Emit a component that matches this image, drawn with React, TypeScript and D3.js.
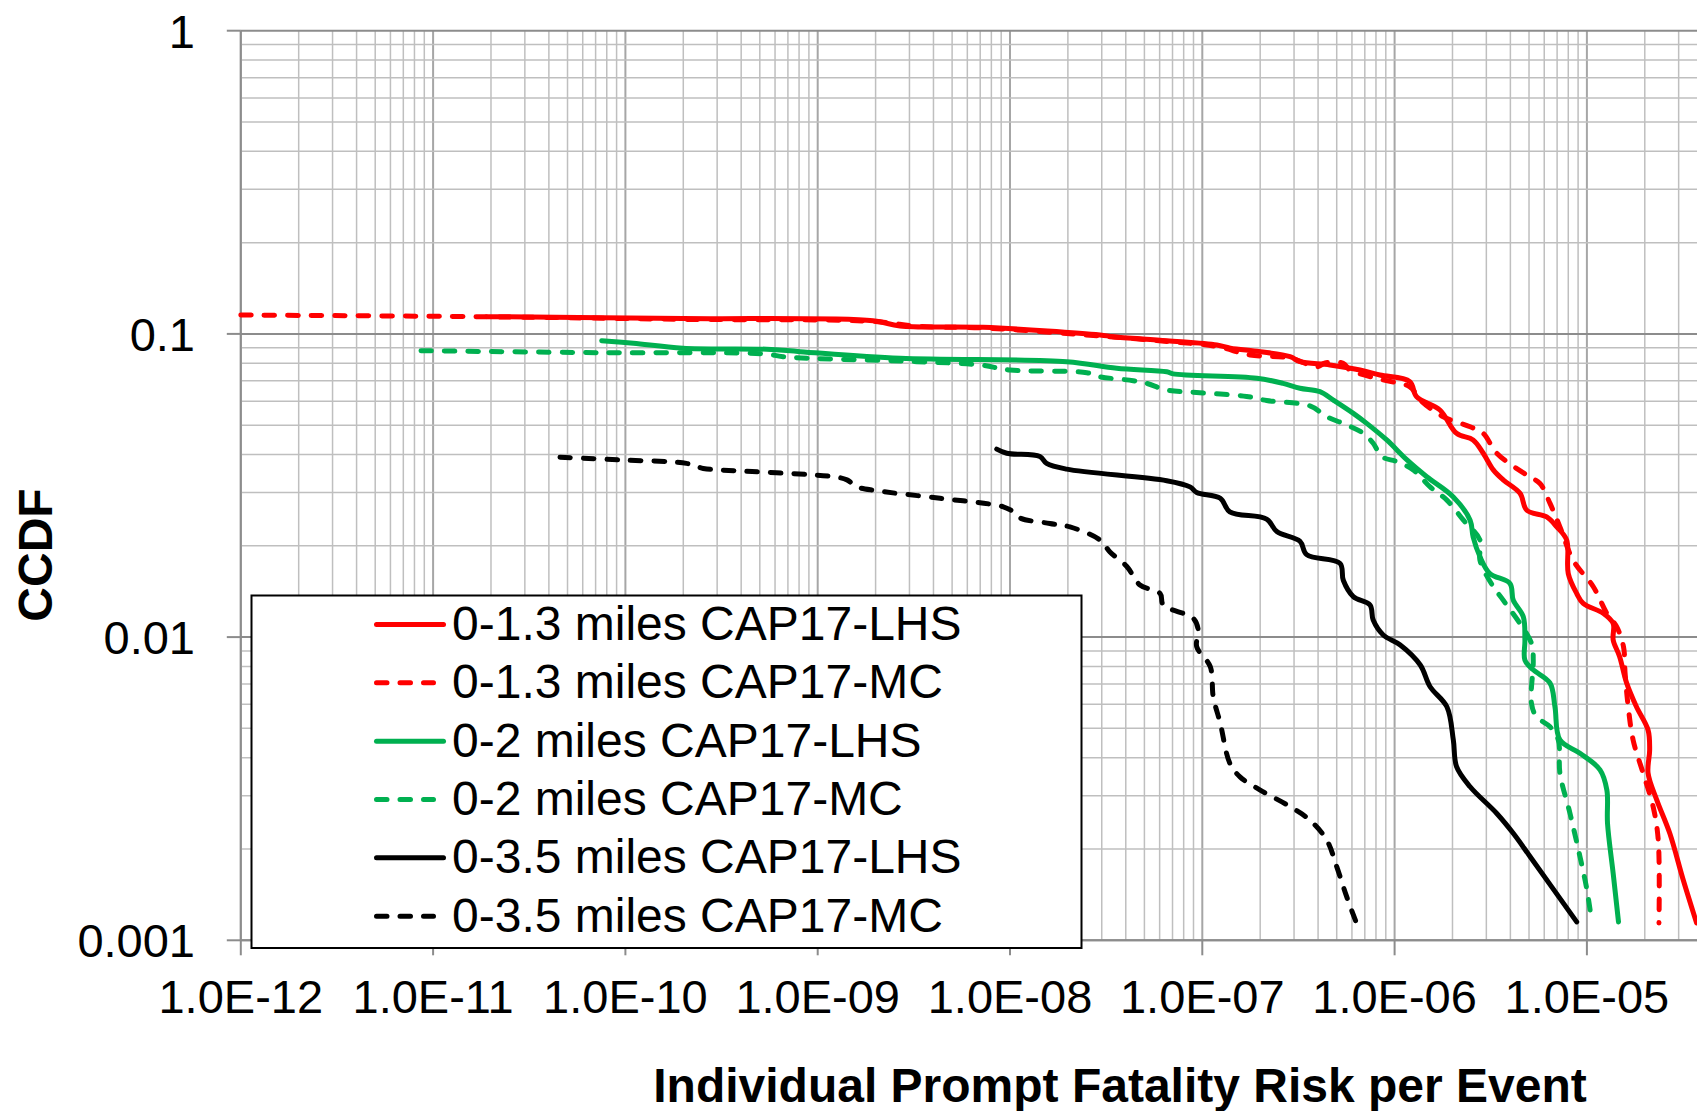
import React from "react";
import * as d3 from "d3";

// CCDF of individual prompt fatality risk per event, by distance band and sampling method.
// Each series is a list of [risk, ccdf] pairs.

const red13LHS: [number, number][] = [
  [1.9e-11, 0.114], [2.0e-10, 0.1124], [1.94e-9, 0.1105], [2.68e-9, 0.1062], [7.24e-9, 0.1051],
  [2.94e-8, 0.0992], [3.44e-8, 0.0979], [6.55e-8, 0.095], [1.19e-7, 0.0919], [1.4e-7, 0.0897],
  [2.0e-7, 0.0874], [2.86e-7, 0.0841], [3.22e-7, 0.081], [4.61e-7, 0.079], [6.61e-7, 0.076],
  [8.39e-7, 0.0732], [1.2e-6, 0.0696], [1.3e-6, 0.0621], [1.72e-6, 0.0561], [2.1e-6, 0.047],
  [2.56e-6, 0.0447], [2.89e-6, 0.0404], [3.26e-6, 0.0356], [3.67e-6, 0.033], [4.49e-6, 0.0298],
  [4.87e-6, 0.0262], [6.18e-6, 0.0249], [6.97e-6, 0.0231], [7.85e-6, 0.0209], [8.0e-6, 0.0162],
  [8.85e-6, 0.01393], [9.57e-6, 0.01291], [1.22e-5, 0.01197], [1.37e-5, 0.01109], [1.37e-5, 0.00978],
  [1.48e-5, 0.00862], [1.61e-5, 0.00705], [1.81e-5, 0.00589], [2.08e-5, 0.00494], [2.12e-5, 0.00425],
  [2.08e-5, 0.00356], [2.31e-5, 0.0029], [2.7e-5, 0.00225], [3.17e-5, 0.00158], [3.72e-5, 0.00114],
];

const red13MC: [number, number][] = [
  [1.0e-12, 0.1154], [1.9e-11, 0.1139], [1.99e-10, 0.1117], [1.94e-9, 0.1099], [3.4e-9, 0.1058],
  [7.24e-9, 0.1046], [2.94e-8, 0.0984], [6.55e-8, 0.0944], [1.19e-7, 0.0909], [1.77e-7, 0.0852],
  [2.86e-7, 0.0833], [3.94e-7, 0.0779], [4.35e-7, 0.0802], [5.4e-7, 0.08], [5.87e-7, 0.076],
  [8.71e-7, 0.0705], [1.2e-6, 0.0669], [1.36e-6, 0.0605], [1.79e-6, 0.0533], [2.47e-6, 0.0494],
  [2.89e-6, 0.047], [3.4e-6, 0.0404], [4.87e-6, 0.0342], [5.7e-6, 0.0321], [6.43e-6, 0.0276],
  [7.24e-6, 0.0231], [8.49e-6, 0.0179], [1.08e-5, 0.01466], [1.27e-5, 0.01197], [1.43e-5, 0.0108],
  [1.55e-5, 0.0093], [1.58e-5, 0.0076], [1.64e-5, 0.00589], [1.74e-5, 0.00457], [1.96e-5, 0.00356],
  [2.21e-5, 0.00276], [2.35e-5, 0.00214], [2.37e-5, 0.00114],
];

const green2LHS: [number, number][] = [
  [7.53e-11, 0.095], [1.1e-10, 0.0931], [1.99e-10, 0.0897], [5.43e-10, 0.089], [8.09e-10, 0.0874],
  [2.68e-9, 0.0831], [1.97e-8, 0.081], [3.59e-8, 0.077], [6.53e-8, 0.075], [7.05e-8, 0.0738],
  [1.92e-7, 0.0714], [2.63e-7, 0.0687], [3.22e-7, 0.0662], [4.09e-7, 0.0645], [4.8e-7, 0.0605],
  [6.1e-7, 0.0547], [7.16e-7, 0.0507], [9.1e-7, 0.0447], [1.16e-6, 0.0384], [1.47e-6, 0.0338],
  [2.02e-6, 0.029], [2.47e-6, 0.0243], [2.56e-6, 0.0214], [2.78e-6, 0.0184], [3.13e-6, 0.0162],
  [3.98e-6, 0.01503], [4.14e-6, 0.01324], [4.67e-6, 0.01167], [4.76e-6, 0.00978], [4.76e-6, 0.0084],
  [5.26e-6, 0.0078], [6.43e-6, 0.00705], [6.82e-6, 0.00589], [7.24e-6, 0.00458], [9.2e-6, 0.00414],
  [1.17e-5, 0.00365], [1.27e-5, 0.00313], [1.28e-5, 0.00243], [1.37e-5, 0.00166], [1.46e-5, 0.00115],
];

const green2MC: [number, number][] = [
  [8.65e-12, 0.088], [7.38e-11, 0.0867], [5.43e-10, 0.0858], [6.6e-10, 0.0841], [3.27e-9, 0.081],
  [6.98e-9, 0.079], [1.0e-8, 0.076], [2.51e-8, 0.0745], [2.94e-8, 0.0722], [4.37e-8, 0.0701],
  [5.14e-8, 0.0687], [6.53e-8, 0.0653], [9.69e-8, 0.064], [1.7e-7, 0.0622], [2.16e-7, 0.0603],
  [3.63e-7, 0.0579], [4.44e-7, 0.0533], [5.64e-7, 0.0501], [6.87e-7, 0.047], [7.74e-7, 0.0436],
  [8.57e-7, 0.0394], [1.03e-6, 0.0379], [1.25e-6, 0.0356], [1.53e-6, 0.0313], [1.87e-6, 0.0283],
  [2.28e-6, 0.0243], [2.78e-6, 0.0209], [2.78e-6, 0.0179], [3.26e-6, 0.01466], [3.67e-6, 0.01324],
  [5.15e-6, 0.00954], [5.26e-6, 0.0084], [5.15e-6, 0.00605], [5.47e-6, 0.00546], [6.43e-6, 0.00506],
  [7.1e-6, 0.00458], [7.24e-6, 0.00356], [8.17e-6, 0.00262], [9.2e-6, 0.00189], [1.0e-5, 0.00147],
  [1.06e-5, 0.00115],
];

const black35LHS: [number, number][] = [
  [8.53e-9, 0.0417], [9.62e-9, 0.0404], [1.43e-8, 0.0394], [1.55e-8, 0.0374], [1.97e-8, 0.0358],
  [6.53e-8, 0.0328], [8.63e-8, 0.0313], [9.35e-8, 0.03], [1.24e-7, 0.0287], [1.39e-7, 0.0259],
  [2.16e-7, 0.0245], [2.44e-7, 0.0223], [3.22e-7, 0.0207], [3.49e-7, 0.0187], [5.2e-7, 0.0175],
  [5.41e-7, 0.0154], [6.1e-7, 0.0136], [7.45e-7, 0.01276], [7.74e-7, 0.01138], [8.73e-7, 0.01016],
  [1.07e-6, 0.00942], [1.36e-6, 0.00809], [1.53e-6, 0.00686], [1.87e-6, 0.00589], [2.02e-6, 0.00458],
  [2.1e-6, 0.00374], [2.47e-6, 0.00321], [3.4e-6, 0.00262], [4.15e-6, 0.00225], [5.06e-6, 0.00189],
  [8.85e-6, 0.00115],
];

const black35MC: [number, number][] = [
  [4.57e-11, 0.0392], [9.38e-11, 0.0384], [2.08e-10, 0.0374], [2.54e-10, 0.036], [3.1e-10, 0.0356],
  [1.21e-9, 0.0338], [1.42e-9, 0.033], [1.6e-9, 0.0313], [2.02e-9, 0.0304], [4.33e-9, 0.0287],
  [9.23e-9, 0.0269], [1.04e-8, 0.0259], [1.13e-8, 0.0247], [1.61e-8, 0.0237], [2.05e-8, 0.0231],
  [2.94e-8, 0.0209], [3.31e-8, 0.0191], [4.05e-8, 0.0171], [4.74e-8, 0.01486], [6.03e-8, 0.01393],
  [6.27e-8, 0.01276], [8.97e-8, 0.01153], [9.53e-8, 0.01054], [9.35e-8, 0.0093], [1.1e-7, 0.00799],
  [1.14e-7, 0.00635], [1.24e-7, 0.0052], [1.39e-7, 0.00384], [1.57e-7, 0.00346], [2.0e-7, 0.00313],
  [2.86e-7, 0.00276], [3.63e-7, 0.00249], [4.44e-7, 0.00214], [5.0e-7, 0.00175], [5.64e-7, 0.00139],
  [6.3e-7, 0.00115],
];

const seriesLabels = [
  "0-1.3 miles CAP17-LHS",
  "0-1.3 miles CAP17-MC",
  "0-2 miles CAP17-LHS",
  "0-2 miles CAP17-MC",
  "0-3.5 miles CAP17-LHS",
  "0-3.5 miles CAP17-MC",
];
const seriesData = [red13LHS, red13MC, green2LHS, green2MC, black35LHS, black35MC];
const seriesColors = ["#FF0000", "#FF0000", "#00B050", "#00B050", "#000000", "#000000"];
const seriesDashed = [false, true, false, true, false, true];

const xTickValues = [1e-12, 1e-11, 1e-10, 1e-9, 1e-8, 1e-7, 1e-6, 1e-5];
const yTickValues = [0.001, 0.01, 0.1, 1];
const yTickLabels = ["0.001", "0.01", "0.1", "1"];

const xTitle = "Individual Prompt Fatality Risk per Event";
const yTitle = "CCDF";

const W = 1697;
const H = 1111;
const FONT = "'Liberation Sans', Arial, Helvetica, sans-serif";
const DASH = "10.5 13";

const x = d3.scaleLog().domain([1e-12, 1e-4]).range([240.8, 240.8 + 8 * 192.3]);
const y = d3.scaleLog().domain([0.001, 1]).range([940.3, 30.7]);

const fmtX = (v: number) => {
  const e = Math.round(Math.log10(v));
  return `1.0E-${String(-e).padStart(2, "0")}`;
};

export default function App() {
  const [x0] = x.range();
  const y0 = y(0.001);
  const yTop = y(1);

  // minor + major gridline values
  const xGrid: { v: number; major: boolean }[] = [];
  for (let e = -12; e <= -5; e++) {
    for (let m = 1; m <= 9; m++) {
      const v = m * Math.pow(10, e);
      if (x(v) <= W + 2) xGrid.push({ v, major: m === 1 });
    }
  }
  const yGrid: { v: number; major: boolean }[] = [];
  for (let e = -3; e <= 0; e++) {
    for (let m = 1; m <= 9; m++) {
      const v = m * Math.pow(10, e);
      if (v <= 1.0000001) yGrid.push({ v, major: m === 1 });
    }
  }

  const line = d3
    .line<[number, number]>()
    .x((d) => x(d[0]))
    .y((d) => y(d[1]))
    .curve(d3.curveCatmullRom.alpha(0.5));

  const legend = { x: 251.5, y: 595.5, w: 830, h: 352.5 };
  const rowBase = 640;
  const rowStep = 58.33;

  return (
    <svg
      width={W}
      height={H}
      viewBox={`0 0 ${W} ${H}`}
      style={{ position: "absolute", left: 0, top: 0, background: "#fff" }}
      fontFamily={FONT}
    >
      <rect x={0} y={0} width={W} height={H} fill="#fff" />

      {/* vertical gridlines */}
      {xGrid.map((g, i) => (
        <line
          key={`xg${i}`}
          x1={x(g.v)}
          x2={x(g.v)}
          y1={yTop}
          y2={y0}
          stroke={g.major ? "#a6a6a6" : "#bfbfbf"}
          strokeWidth={g.major ? 2 : 1.5}
        />
      ))}
      {/* horizontal gridlines */}
      {yGrid.map((g, i) => (
        <line
          key={`yg${i}`}
          x1={x0}
          x2={W}
          y1={y(g.v)}
          y2={y(g.v)}
          stroke={g.major ? "#8c8c8c" : "#bfbfbf"}
          strokeWidth={g.major ? 2 : 1.5}
        />
      ))}

      {/* axes */}
      <line x1={x0} x2={x0} y1={yTop} y2={y0} stroke="#8c8c8c" strokeWidth={2} />
      <line x1={x0} x2={W} y1={y0} y2={y0} stroke="#8c8c8c" strokeWidth={2} />
      {yTickValues.map((v, i) => (
        <line key={`yt${i}`} x1={x0 - 14} x2={x0} y1={y(v)} y2={y(v)} stroke="#8c8c8c" strokeWidth={2} />
      ))}
      {xTickValues.map((v, i) => (
        <line key={`xt${i}`} x1={x(v)} x2={x(v)} y1={y0} y2={y0 + 15} stroke="#8c8c8c" strokeWidth={2} />
      ))}

      {/* tick labels */}
      {yTickValues.map((v, i) => (
        <text key={`yl${i}`} x={195} y={y(v) + 16.8} textAnchor="end" fontSize={47} fill="#000">
          {yTickLabels[i]}
        </text>
      ))}
      {xTickValues.map((v, i) => (
        <text key={`xl${i}`} x={x(v)} y={1013} textAnchor="middle" fontSize={47} fill="#000">
          {fmtX(v)}
        </text>
      ))}

      {/* axis titles */}
      <text x={1120} y={1102} textAnchor="middle" fontSize={48} fontWeight="bold" fill="#000">
        {xTitle}
      </text>
      <text
        transform={`translate(52,555) rotate(-90)`}
        textAnchor="middle"
        fontSize={48}
        fontWeight="bold"
        fill="#000"
      >
        {yTitle}
      </text>

      {/* curves */}
      {seriesData.map((d, i) => (
        <path
          key={`s${i}`}
          d={line(d) || ""}
          fill="none"
          stroke={seriesColors[i]}
          strokeWidth={5}
          strokeLinecap="round"
          strokeLinejoin="round"
          strokeDasharray={seriesDashed[i] ? DASH : undefined}
        />
      ))}

      {/* legend */}
      <rect
        x={legend.x}
        y={legend.y}
        width={legend.w}
        height={legend.h}
        fill="#fff"
        stroke="#000"
        strokeWidth={2}
      />
      {seriesLabels.map((label, i) => {
        const by = rowBase + i * rowStep;
        const ly = by - 15.5;
        return (
          <g key={`lg${i}`}>
            <line
              x1={376.5}
              x2={seriesDashed[i] ? 433.5 : 443.5}
              y1={ly}
              y2={ly}
              stroke={seriesColors[i]}
              strokeWidth={5}
              strokeLinecap="round"
              strokeDasharray={seriesDashed[i] ? DASH : undefined}
            />
            <text x={452} y={by} fontSize={48} fill="#000">
              {label}
            </text>
          </g>
        );
      })}
    </svg>
  );
}
